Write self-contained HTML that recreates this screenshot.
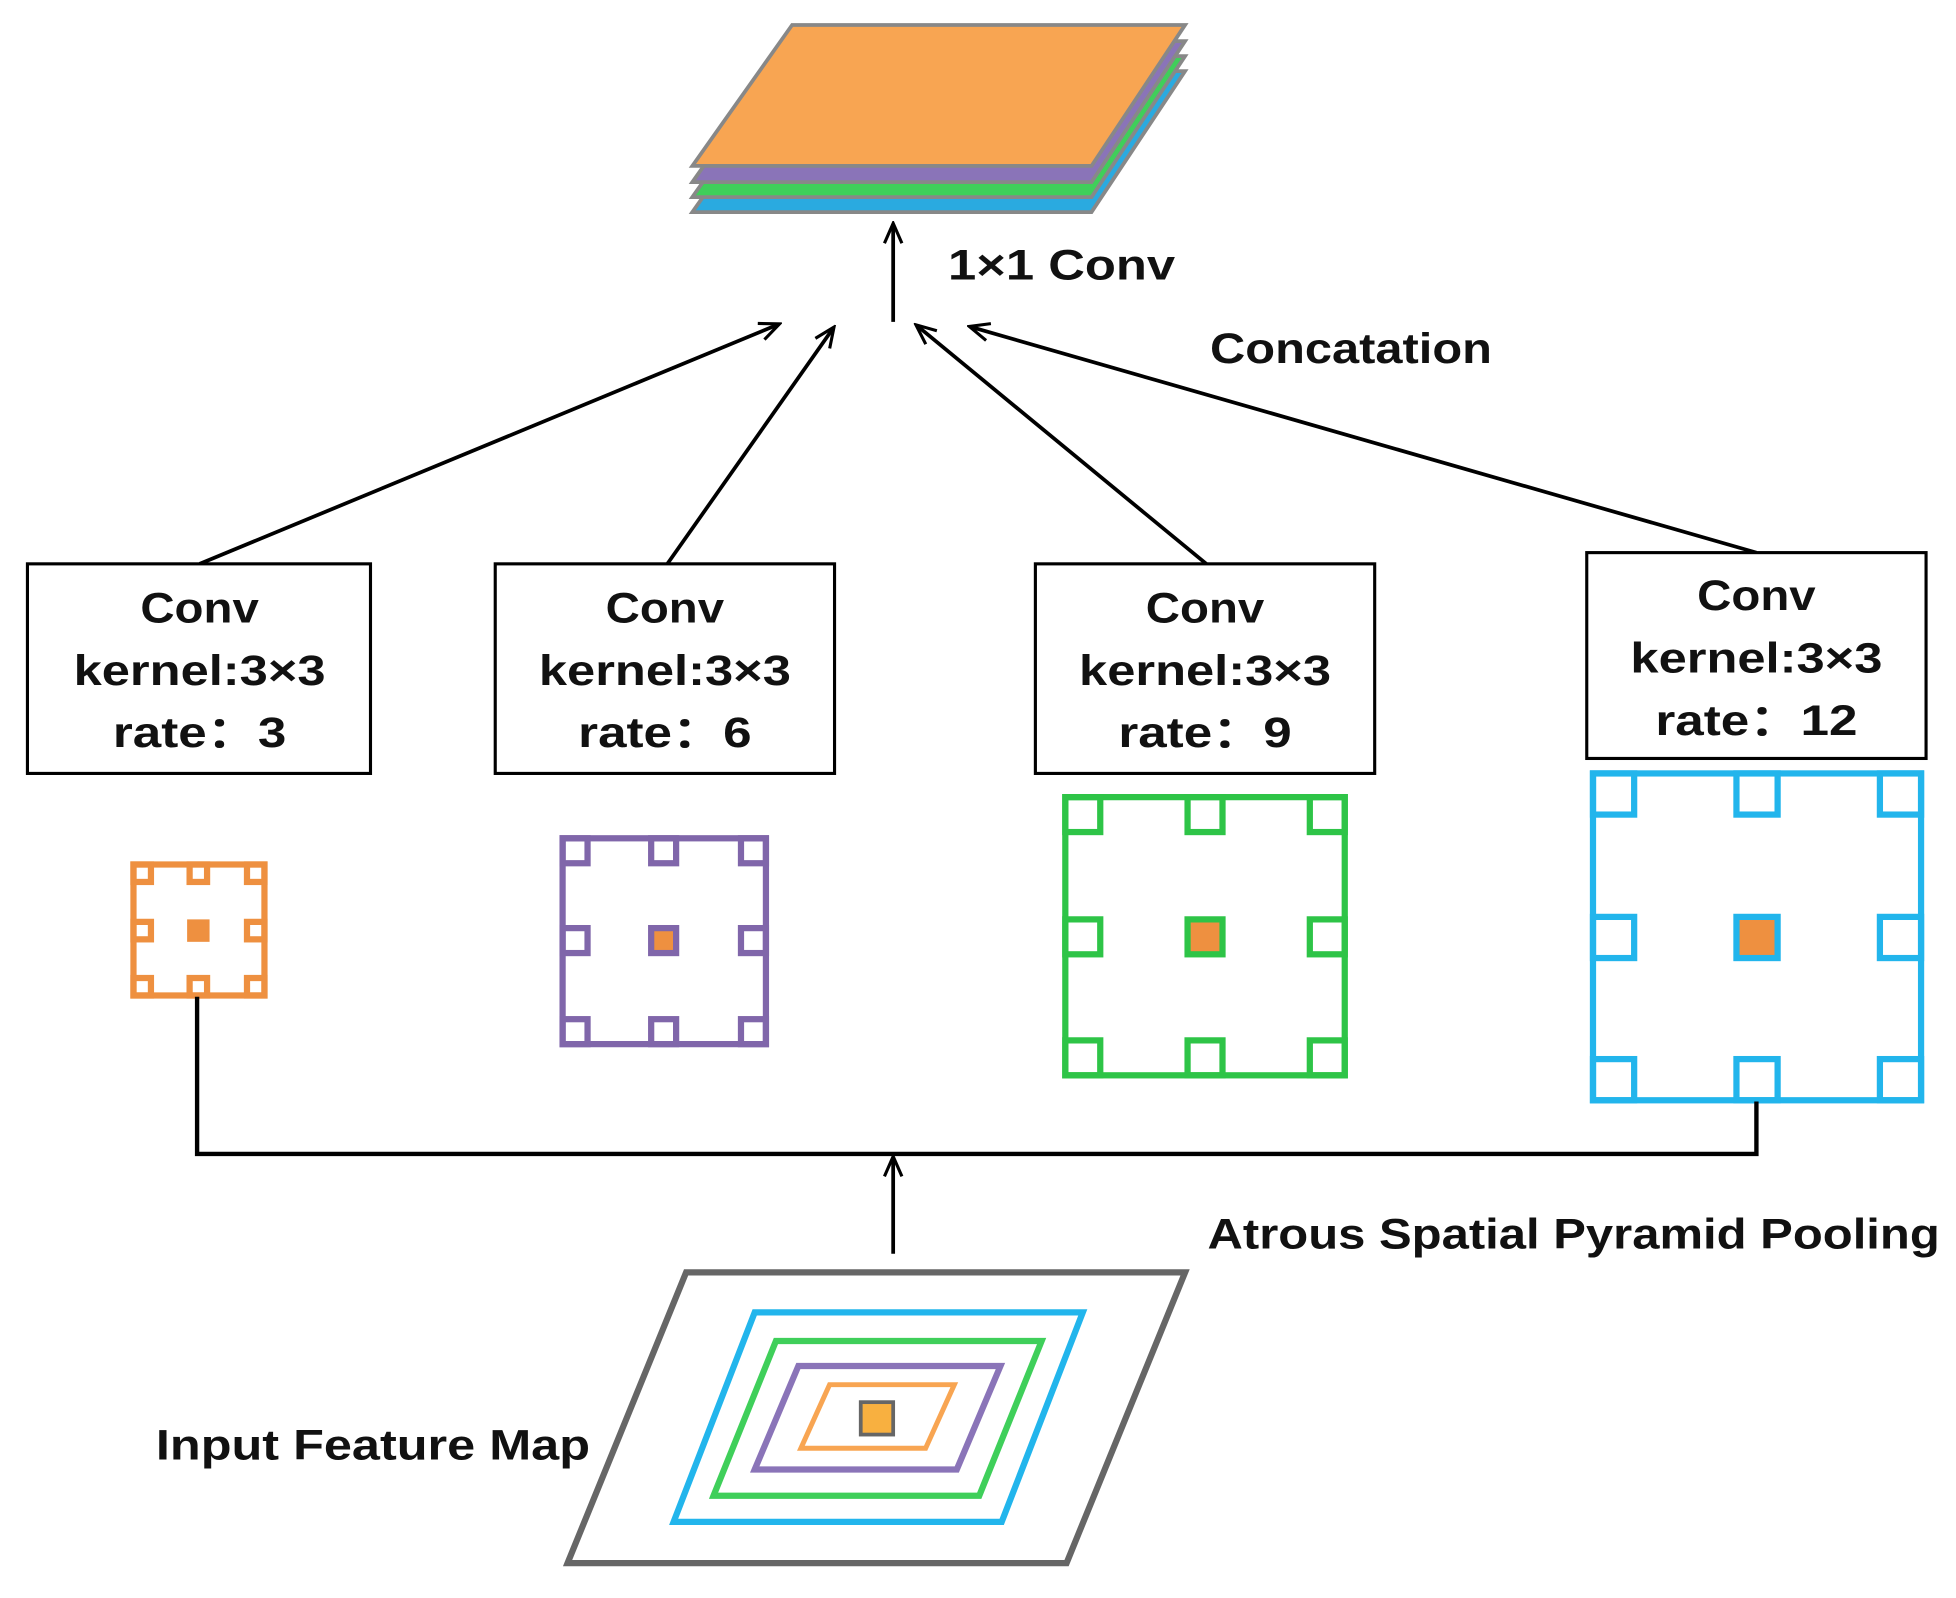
<!DOCTYPE html>
<html><head><meta charset="utf-8"><style>
html,body{margin:0;padding:0;background:#fff;}
svg{display:block}
text{font-family:"Liberation Sans","DejaVu Sans",sans-serif;fill:#111;font-weight:bold;}
</style></head><body>
<svg width="1956" height="1598" viewBox="0 0 1568 1281" preserveAspectRatio="none" xmlns="http://www.w3.org/2000/svg">
<defs>
<marker id="ah" markerWidth="20" markerHeight="20" refX="17" refY="10" orient="auto" markerUnits="userSpaceOnUse">
<path d="M2,3 L18,10 L2,17" fill="none" stroke="#000" stroke-width="2.5"/>
</marker>
</defs>
<g stroke="#888" stroke-width="3">
<polygon points="555,170 635,57 950,57 875,170" fill="#2aaae0"/>
<polygon points="555,158 635,45 950,45 875,158" fill="#3fcf5a"/>
<polygon points="555,146 635,33 950,33 875,146" fill="#8a74b8"/>
<polygon points="555,133 635,20 950,20 875,133" fill="#f8a552"/>
</g>
<line x1="716" y1="258" x2="716" y2="180" stroke="#000" stroke-width="3" marker-end="url(#ah)"/>
<text x="760" y="224" font-size="34" textLength="182" lengthAdjust="spacingAndGlyphs">1×1 Conv</text>
<text x="970" y="291" font-size="34" textLength="226" lengthAdjust="spacingAndGlyphs">Concatation</text>
<g stroke="#000" stroke-width="3" marker-end="url(#ah)">
<line x1="160" y1="452" x2="624" y2="260"/>
<line x1="535" y1="452" x2="668" y2="263"/>
<line x1="967" y1="452" x2="735" y2="261"/>
<line x1="1408" y1="443" x2="778" y2="262"/>
</g>
<g fill="#fff" stroke="#000" stroke-width="2.5">
<rect x="22" y="452" width="275" height="168"/>
<rect x="397" y="452" width="272" height="168"/>
<rect x="830" y="452" width="272" height="168"/>
<rect x="1272" y="443" width="272" height="165"/>
</g>
<g font-size="34" text-anchor="middle" lengthAdjust="spacingAndGlyphs">
<text x="160" y="499" textLength="95" lengthAdjust="spacingAndGlyphs">Conv</text><text x="160" y="549" textLength="202" lengthAdjust="spacingAndGlyphs">kernel:3×3</text><text x="160" y="599" textLength="139" lengthAdjust="spacingAndGlyphs">rate：3</text>
<text x="533" y="499" textLength="95" lengthAdjust="spacingAndGlyphs">Conv</text><text x="533" y="549" textLength="202" lengthAdjust="spacingAndGlyphs">kernel:3×3</text><text x="533" y="599" textLength="139" lengthAdjust="spacingAndGlyphs">rate：6</text>
<text x="966" y="499" textLength="95" lengthAdjust="spacingAndGlyphs">Conv</text><text x="966" y="549" textLength="202" lengthAdjust="spacingAndGlyphs">kernel:3×3</text><text x="966" y="599" textLength="139" lengthAdjust="spacingAndGlyphs">rate：9</text>
<text x="1408" y="489" textLength="95" lengthAdjust="spacingAndGlyphs">Conv</text><text x="1408" y="539" textLength="202" lengthAdjust="spacingAndGlyphs">kernel:3×3</text><text x="1408" y="589" textLength="162" lengthAdjust="spacingAndGlyphs">rate：12</text>
</g>
<g fill="none" stroke="#ee9040" stroke-width="5">
<rect x="107" y="693" width="105" height="105"/>
<rect x="107" y="693" width="14" height="14"/><rect x="152" y="693" width="14" height="14"/><rect x="198" y="693" width="14" height="14"/>
<rect x="107" y="739" width="14" height="14"/><rect x="198" y="739" width="14" height="14"/>
<rect x="107" y="784" width="14" height="14"/><rect x="152" y="784" width="14" height="14"/><rect x="198" y="784" width="14" height="14"/>
</g>
<rect x="150" y="737" width="18" height="18" fill="#ee9040"/>
<g fill="none" stroke="#8066aa" stroke-width="5">
<rect x="451" y="672" width="163" height="165"/>
<rect x="451" y="672" width="20" height="20"/><rect x="522" y="672" width="20" height="20"/><rect x="594" y="672" width="20" height="20"/>
<rect x="451" y="744" width="20" height="20"/><rect x="594" y="744" width="20" height="20"/>
<rect x="451" y="817" width="20" height="20"/><rect x="522" y="817" width="20" height="20"/><rect x="594" y="817" width="20" height="20"/>
<rect x="522" y="744" width="20" height="20" fill="#ee9040"/>
</g>
<g fill="none" stroke="#2ec447" stroke-width="5">
<rect x="854" y="639" width="224" height="223"/>
<rect x="854" y="639" width="28" height="28"/><rect x="952" y="639" width="28" height="28"/><rect x="1050" y="639" width="28" height="28"/>
<rect x="854" y="737" width="28" height="28"/><rect x="1050" y="737" width="28" height="28"/>
<rect x="854" y="834" width="28" height="28"/><rect x="952" y="834" width="28" height="28"/><rect x="1050" y="834" width="28" height="28"/>
<rect x="952" y="737" width="28" height="28" fill="#ee9040"/>
</g>
<g fill="none" stroke="#22b5ec" stroke-width="5">
<rect x="1277" y="620" width="263" height="262"/>
<rect x="1277" y="620" width="33" height="33"/><rect x="1392" y="620" width="33" height="33"/><rect x="1507" y="620" width="33" height="33"/>
<rect x="1277" y="735" width="33" height="33"/><rect x="1507" y="735" width="33" height="33"/>
<rect x="1277" y="849" width="33" height="33"/><rect x="1392" y="849" width="33" height="33"/><rect x="1507" y="849" width="33" height="33"/>
<rect x="1392" y="735" width="33" height="33" fill="#ee9040"/>
</g>
<polyline points="158,799 158,925 1408,925 1408,883" fill="none" stroke="#000" stroke-width="3.5"/>
<line x1="716" y1="1005" x2="716" y2="928" stroke="#000" stroke-width="3" marker-end="url(#ah)"/>
<text x="968" y="1001" font-size="34" textLength="587" lengthAdjust="spacingAndGlyphs">Atrous Spatial Pyramid Pooling</text>
<polygon points="455,1253 550,1020 950,1020 855,1253" fill="#fff" stroke="#666" stroke-width="5"/>
<polygon points="540,1220 605,1052 868,1052 803,1220" fill="none" stroke="#22b5ec" stroke-width="5"/>
<polygon points="572,1199 622,1075 835,1075 785,1199" fill="none" stroke="#3fcf5a" stroke-width="5"/>
<polygon points="605,1178 640,1095 802,1095 767,1178" fill="none" stroke="#8a74b8" stroke-width="5"/>
<polygon points="642,1161 665,1110 765,1110 742,1161" fill="none" stroke="#f8a552" stroke-width="4"/>
<rect x="690" y="1124" width="26" height="26" fill="#f8b040" stroke="#666" stroke-width="3"/>
<text x="125" y="1170" font-size="34" textLength="348" lengthAdjust="spacingAndGlyphs">Input Feature Map</text>
</svg>
</body></html>
